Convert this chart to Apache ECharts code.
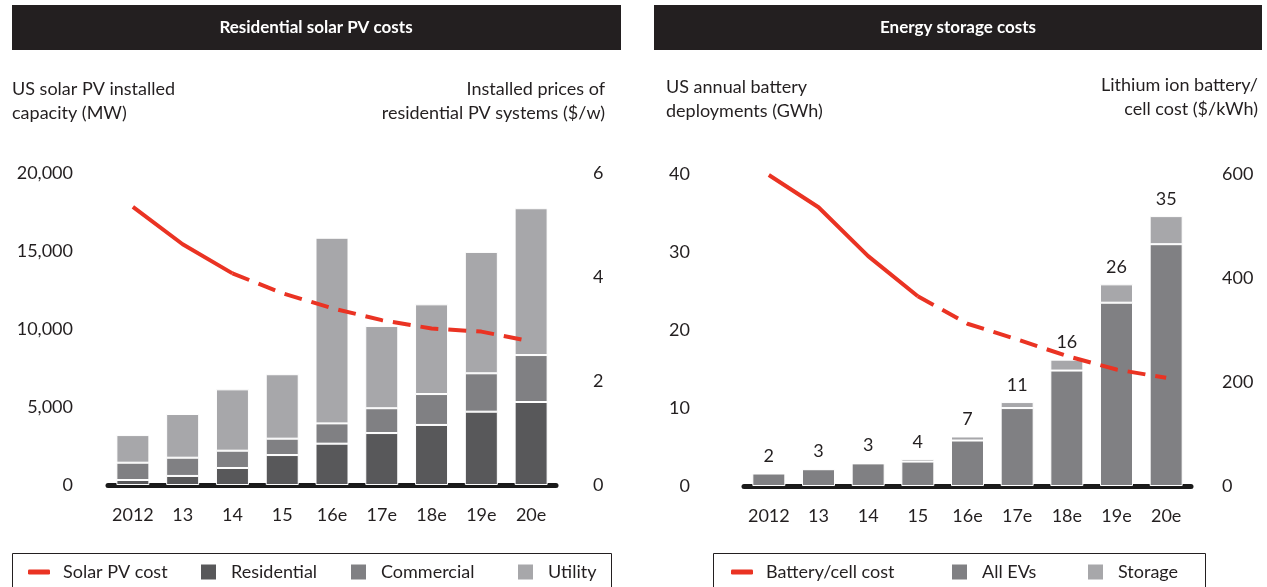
<!DOCTYPE html>
<html>
<head>
<meta charset="utf-8">
<script src="https://cdn.jsdelivr.net/npm/echarts@6/dist/echarts.min.js"></script>
<style>
html,body{margin:0;padding:0;background:#fff;}
#c{width:1267px;height:587px;}
</style>
</head>
<body>
<div id="c"></div>
<script>
const categories = ['2012','13','14','15','16e','17e','18e','19e','20e'];
// Residential solar PV (MW)
const residential = [320, 580, 1090, 1920, 2650, 3330, 3850, 4700, 5320];
const commercial  = [1110, 1170, 1110, 1050, 1300, 1590, 1980, 2460, 3010];
const utility     = [1770, 2800, 3930, 4130, 11900, 5270, 5750, 7780, 9410];
// Installed prices of residential PV ($/W)
const solarCost   = [5.35, 4.63, 4.07, 3.69, 3.40, 3.17, 3.01, 2.95, 2.76];
// Battery deployments (GWh)
const allEVs      = [1.6, 2.15, 2.9, 3.13, 5.83, 9.99, 14.8, 23.5, 31.0];
const storage     = [0.05, 0.05, 0.05, 0.34, 0.52, 0.77, 1.4, 2.35, 3.6];
const totalLabels = ['2','3','3','4','7','11','16','26','35'];
// Lithium ion battery/cell cost ($/kWh)
const batteryCost = [598, 536, 442, 365, 312, 282, 250, 224, 208];

const FONT = 'Lato';
const TXT = '#231f20';
const RED = '#ea3323';
const C_RES = '#58585a', C_COM = '#808083', C_UTIL = '#a7a7aa';

const solid = (arr, upto) => arr.map((v, i) => i <= upto ? v : '-');
const dashed = (arr, from) => arr.map((v, i) => i >= from ? v : '-');

const chart = echarts.init(document.getElementById('c'), null, {renderer: 'canvas'});

const axisLabelBase = {color: TXT, fontSize: 18, fontFamily: FONT};
const barItem = c => ({color: c, borderColor: '#fff', borderWidth: 1});
const legTxt = {fontSize: 18, color: TXT, fontFamily: FONT, lineHeight: 20};

function lineLegend(name, left) {
  return {data: [name], left: left, top: 562, padding: 0, icon: 'roundRect', itemWidth: 22, itemHeight: 5,
          textStyle: Object.assign({}, legTxt, {padding: [0, 0, 0, 8]})};
}
function boxLegend(name, left) {
  return {data: [name], left: left, top: 562, padding: 0, icon: 'rect', itemWidth: 17, itemHeight: 17,
          textStyle: Object.assign({}, legTxt, {padding: [0, 0, 0, 9]})};
}

const option = {
  animation: false,
  textStyle: {fontFamily: FONT, color: TXT},
  grid: [
    {left: 108, width: 448, top: 173, bottom: 102},
    {left: 744, width: 447, top: 174, bottom: 101}
  ],
  xAxis: [0, 1].map(g => ({
    type: 'category', gridIndex: g, data: categories,
    axisLine: {lineStyle: {color: '#1a1a1a', width: 5}},
    axisTick: {show: false},
    axisLabel: Object.assign({}, axisLabelBase, {margin: 21, interval: 0})
  })),
  yAxis: [
    {type: 'value', gridIndex: 0, min: 0, max: 20000, interval: 5000, position: 'left',
     splitLine: {show: false}, axisLine: {show: false}, axisTick: {show: false},
     axisLabel: Object.assign({}, axisLabelBase, {margin: 35, formatter: v => v.toLocaleString('en-US')})},
    {type: 'value', gridIndex: 0, min: 0, max: 6, interval: 2, position: 'right',
     splitLine: {show: false}, axisLine: {show: false}, axisTick: {show: false},
     axisLabel: Object.assign({}, axisLabelBase, {margin: 37})},
    {type: 'value', gridIndex: 1, min: 0, max: 40, interval: 10, position: 'left',
     splitLine: {show: false}, axisLine: {show: false}, axisTick: {show: false},
     axisLabel: Object.assign({}, axisLabelBase, {margin: 54})},
    {type: 'value', gridIndex: 1, min: 0, max: 600, interval: 200, position: 'right',
     splitLine: {show: false}, axisLine: {show: false}, axisTick: {show: false},
     axisLabel: Object.assign({}, axisLabelBase, {margin: 31})}
  ],
  legend: [
    lineLegend('Solar PV cost', 28),
    boxLegend('Residential', 199),
    boxLegend('Commercial', 349),
    boxLegend('Utility', 516),
    lineLegend('Battery/cell cost', 731),
    boxLegend('All EVs', 950),
    boxLegend('Storage', 1086)
  ],
  graphic: [
    {type: 'rect', shape: {x: 12, y: 5, width: 609, height: 45}, style: {fill: '#231f20'}},
    {type: 'text', x: 316, y: 28, style: {text: 'Residential solar PV costs', fill: '#fff', font: 'bold 17px Lato', align: 'center', verticalAlign: 'middle'}},
    {type: 'rect', shape: {x: 654, y: 5, width: 608, height: 45}, style: {fill: '#231f20'}},
    {type: 'text', x: 958, y: 28, style: {text: 'Energy storage costs', fill: '#fff', font: 'bold 17px Lato', align: 'center', verticalAlign: 'middle'}},
    {type: 'text', x: 12, y: 77, style: {text: 'US solar PV installed\ncapacity (MW)', fill: TXT, font: '18px Lato', lineHeight: 24}},
    {type: 'text', x: 605, y: 77, style: {text: 'Installed prices of\nresidential PV systems ($/w)', fill: TXT, font: '18px Lato', lineHeight: 24, align: 'right'}},
    {type: 'text', x: 666, y: 75, style: {text: 'US annual battery\ndeployments (GWh)', fill: TXT, font: '18px Lato', lineHeight: 24}},
    {type: 'text', x: 1258, y: 73, style: {text: 'Lithium ion battery/\ncell cost ($/kWh)', fill: TXT, font: '18px Lato', lineHeight: 24, align: 'right'}},
    {type: 'rect', shape: {x: 12.5, y: 553.5, width: 599, height: 60}, style: {fill: 'none', stroke: '#231f20', lineWidth: 1}},
    {type: 'rect', shape: {x: 713.5, y: 553.5, width: 492, height: 60}, style: {fill: 'none', stroke: '#231f20', lineWidth: 1}}
  ],
  series: [
    {name: 'Residential', type: 'bar', stack: 'pv', xAxisIndex: 0, yAxisIndex: 0, data: residential, barWidth: 33, itemStyle: barItem(C_RES)},
    {name: 'Commercial', type: 'bar', stack: 'pv', xAxisIndex: 0, yAxisIndex: 0, data: commercial, barWidth: 33, itemStyle: barItem(C_COM)},
    {name: 'Utility', type: 'bar', stack: 'pv', xAxisIndex: 0, yAxisIndex: 0, data: utility, barWidth: 33, itemStyle: barItem(C_UTIL)},
    {name: 'Solar PV cost', type: 'line', xAxisIndex: 0, yAxisIndex: 1, data: solid(solarCost, 2), symbol: 'none', z: 5,
     lineStyle: {color: RED, width: 4}, itemStyle: {color: RED}},
    {name: 'Solar PV cost (est)', type: 'line', xAxisIndex: 0, yAxisIndex: 1, data: dashed(solarCost, 2), symbol: 'none', z: 5,
     lineStyle: {color: RED, width: 4, type: [18, 10]}, itemStyle: {color: RED}},
    {name: 'All EVs', type: 'bar', stack: 'bat', xAxisIndex: 1, yAxisIndex: 2, data: allEVs, barWidth: 33, itemStyle: barItem(C_COM)},
    {name: 'Storage', type: 'bar', stack: 'bat', xAxisIndex: 1, yAxisIndex: 2, data: storage, barWidth: 33, itemStyle: barItem(C_UTIL),
     label: {show: true, position: 'top', distance: 8, color: TXT, fontSize: 18, fontFamily: FONT,
             formatter: p => totalLabels[p.dataIndex]}},
    {name: 'Battery/cell cost', type: 'line', xAxisIndex: 1, yAxisIndex: 3, data: solid(batteryCost, 3), symbol: 'none', z: 5,
     lineStyle: {color: RED, width: 4}, itemStyle: {color: RED}},
    {name: 'Battery/cell cost (est)', type: 'line', xAxisIndex: 1, yAxisIndex: 3, data: dashed(batteryCost, 3), symbol: 'none', z: 5,
     lineStyle: {color: RED, width: 4, type: [18, 10]}, itemStyle: {color: RED}}
  ]
};
chart.setOption(option);
</script>
</body>
</html>
